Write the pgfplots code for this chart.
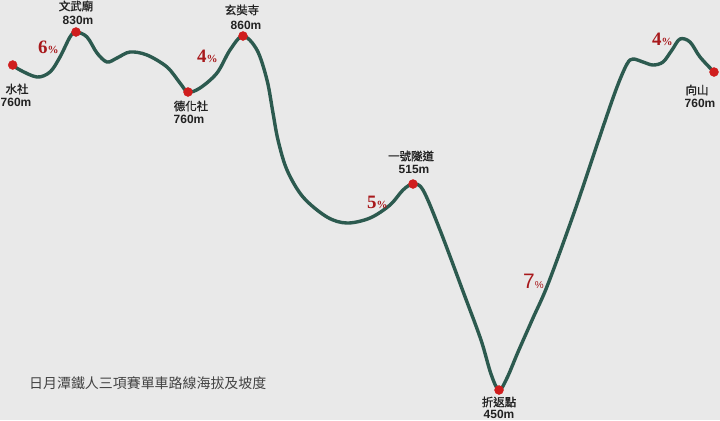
\documentclass[border=0pt]{standalone}
\usepackage{pgfplots}
\pgfplotsset{compat=1.18}
\usepackage{fontspec}
\setmainfont{Liberation Sans}
\newfontfamily\cjk{Noto Sans CJK TC}
\newfontfamily\cjkb[FakeBold=1.2]{Noto Sans CJK TC}
\newfontfamily\serif{Liberation Serif}
\definecolor{bg}{HTML}{E9E9E9}
\definecolor{route}{HTML}{2C5A4F}
\definecolor{dot}{HTML}{D01E1E}
\definecolor{pct}{HTML}{A8191C}
\definecolor{txt}{HTML}{222222}

% label: place name over elevation
\newcommand{\place}[1]{{\cjkb\fontsize{11.5}{13}\selectfont #1}}
\newcommand{\elev}[1]{{\fontsize{12}{14}\selectfont\bfseries #1}}
\newcommand{\pc}[2][19]{{\serif\bfseries\fontsize{#1}{#1}\selectfont #2}{\serif\bfseries\fontsize{11}{11}\selectfont\%}}

\begin{document}
\begin{tikzpicture}
  \begin{axis}[
      width=720bp, height=420bp, scale only axis,
      xmin=0, xmax=720, ymin=0, ymax=420, y dir=reverse,
      axis lines=none, ticks=none,
      axis background/.style={fill=bg},
      clip=false,
    ]
    \coordinate (ll) at (rel axis cs:0,0);
    \coordinate (ur) at (rel axis cs:1,1);

    % route profile, read off in pixel units
    \addplot[route, line width=3.4bp, smooth, tension=0.55] coordinates {
      (12.7,65) (20,70) (37,77) (50,72) (60,57) (70,37) (76,32) (87,37)
      (97,53) (107,62) (117,58) (130,52) (147,55) (167,67) (180,83) (188,92)
      (200,88) (217,73) (230,50) (243,36) (257,50) (267,80) (273,113) (278,140)
      (287,170) (303,197) (327,217) (347,223) (370,218) (390,205) (403,190) (413,184)
      (423,190) (440,230) (464,294) (481,340) (491,374) (499,390) (507,378) (518,352)
      (533,318) (548,284) (575,210) (603,127) (617,87) (627,64) (633,59) (643,62)
      (653,65) (663,62) (672,50) (680,39) (690,42) (700,57) (714,72)
    };

    % checkpoints
    \addplot[only marks, mark=*, mark size=4.5bp, color=dot] coordinates {
      (12.7,65) (76,32) (188,92) (243,36) (413,184) (499,390) (714,72)
    };

    \begin{scope}[every node/.style={text=txt, inner sep=0pt}]
      \node at (axis cs:17,89) {\place{水社}};
      \node at (axis cs:16,102) {\elev{760m}};
      \node at (axis cs:76,6) {\place{文武廟}};
      \node at (axis cs:78,20) {\elev{830m}};
      \node at (axis cs:191,106) {\place{德化社}};
      \node at (axis cs:189,119) {\elev{760m}};
      \node at (axis cs:242,10) {\place{玄奘寺}};
      \node at (axis cs:246,25) {\elev{860m}};
      \node at (axis cs:411,156) {\place{一號隧道}};
      \node at (axis cs:414,169) {\elev{515m}};
      \node at (axis cs:499,402) {\place{折返點}};
      \node at (axis cs:499,414) {\elev{450m}};
      \node at (axis cs:697,90) {\place{向山}};
      \node at (axis cs:700,103) {\elev{760m}};
      \node[anchor=west, text=txt!85] at (axis cs:29,383)
        {\cjk\fontsize{14}{16}\selectfont 日月潭鐵人三項賽單車路線海拔及坡度};
    \end{scope}

    \begin{scope}[every node/.style={text=pct, inner sep=0pt, anchor=base west}]
      \node at (axis cs:38,53) {\pc{6}};
      \node at (axis cs:197,62) {\pc{4}};
      \node at (axis cs:367,208) {\pc{5}};
      \node at (axis cs:523,288) {{\fontsize{21}{21}\selectfont 7}{\fontsize{10}{10}\selectfont\%}};
      \node at (axis cs:652,45) {\pc{4}};
    \end{scope}
  \end{axis}
  \pgfresetboundingbox
  \path (ll) rectangle (ur);
\end{tikzpicture}
\end{document}
